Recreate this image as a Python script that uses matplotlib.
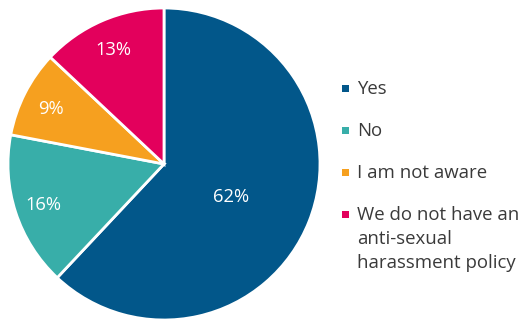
import numpy as np
import matplotlib.pyplot as plt
from matplotlib.patches import Rectangle

labels = ['Yes', 'No', 'I am not aware', 'We do not have an\nanti-sexual\nharassment policy']
values = [62, 16, 9, 13]
colors = ['#02578a', '#38aea9', '#f6a01f', '#e3005c']

plt.rcParams['font.family'] = ['Open Sans', 'DejaVu Sans']

W, H = 521, 320
fig = plt.figure(figsize=(W / 100, H / 100), dpi=100)
ax = fig.add_axes([8 / W, 0, 312 / W, 312 / H])

wedges, texts, autotexts = ax.pie(
    values, colors=colors, startangle=90, counterclock=False,
    autopct='%d%%', pctdistance=0.81,
    wedgeprops=dict(edgecolor='white', linewidth=2),
    textprops=dict(color='white', fontsize=13.2))
for t in autotexts:
    t.set_verticalalignment('center_baseline')

# the big slice has its label nearer the centre
w = wedges[0]
mid = np.deg2rad((w.theta1 + w.theta2) / 2 - 3.4)
autotexts[0].set_position((0.475 * np.cos(mid), 0.475 * np.sin(mid)))

ax.set_xlim(-1, 1)
ax.set_ylim(-1, 1)
ax.set_aspect('equal')

# legend: square + text, first line aligned with the square
y0, step, sq = 88, 42, 7
for i, (lab, c) in enumerate(zip(labels, colors)):
    yc = y0 + i * step
    fig.patches.append(Rectangle(((345 - sq / 2) / W, 1 - (yc + sq / 2) / H), sq / W, sq / H,
                                 transform=fig.transFigure, facecolor=c, edgecolor='none'))
    fig.text(357 / W, 1 - (yc - 8.5) / H, lab, fontsize=13.4, color='#3a3a3a',
             ha='left', va='top', linespacing=1.45)

fig.savefig('out.png', dpi=100)
